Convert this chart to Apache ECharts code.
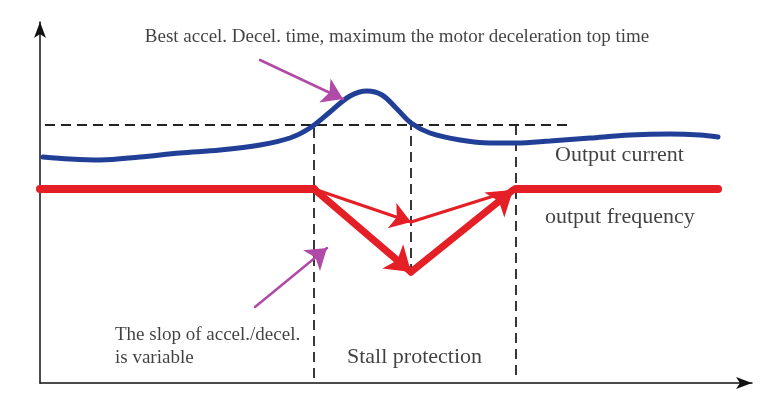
<!DOCTYPE html>
<html lang="en">
<head>
    <meta charset="UTF-8">
    <title>Stall protection</title>
    <script src="https://cdn.jsdelivr.net/npm/echarts@6/dist/echarts.min.js"></script>
    <style>
        html, body { margin: 0; padding: 0; background: #fff; }
        #chart { width: 780px; height: 397px; }
    </style>
</head>
<body>
    <div id="chart"></div>
    <script>
        // output current curve (time, level)
        const currentX = [3, 30, 60, 100, 140, 180, 220, 250, 270, 290, 310, 327, 342, 357, 371, 390, 420, 450, 476, 510, 550, 590, 630, 660, 678];
        const currentY = [226, 224, 223, 226, 230, 233, 238, 245, 255, 271, 287, 292, 288, 274, 260, 250, 243, 240, 240, 242, 245, 248, 249, 248, 246];

        // output frequency: flat before and after the stall window
        const freqBefore = [[0, 194], [274, 194]];
        const freqAfter = [[476, 194], [678, 194]];

        // decel / accel ramps inside the stall window
        const steepRamps = [[[274, 194], [371, 111]], [[371, 111], [473, 193]]];
        const gentleDecel = [[274, 194], [371, 161]];
        const gentleAccel = [[371, 161], [476, 194]];

        // reference levels / time marks
        const limitLine = [[5, 258], [530, 258]];
        const timeMarks = [
            [[274, 255], [274, 3]],
            [[371, 263], [371, 111]],
            [[476, 258], [476, 3]]
        ];

        // pointers to the annotations
        const pointers = [
            [[220, 323], [303, 284]],
            [[215, 76], [287, 135]]
        ];

        // annotation texts and anchors
        const titleText = 'Best accel. Decel. time, maximum the motor deceleration top time';
        const titleAt = [357, 346];
        const notes = [
            { text: 'Output current', at: [515, 228], size: 22 },
            { text: 'output frequency', at: [505, 166], size: 22 },
            { text: 'The slop of accel./decel.\nis variable', at: [75, 36.5], size: 19 },
            { text: 'Stall protection', at: [307, 26], size: 22 }
        ];

        const chart = echarts.init(document.getElementById('chart'));
        const serif = '"Liberation Serif", "DejaVu Serif", serif';

        const arrowLines = (coords, color, width, head) => ({
            type: 'lines',
            coordinateSystem: 'cartesian2d',
            symbol: ['none', head ? 'arrow' : 'none'],
            symbolSize: head || 0,
            lineStyle: { color: color, width: width, opacity: 1, curveness: 0, cap: 'round' },
            silent: true,
            z: 4,
            data: coords.map(c => ({ coords: c }))
        });

        const option = {
            animation: false,
            grid: { left: 40, top: 22, width: 712, height: 361 },
            xAxis: {
                type: 'value', min: 0, max: 712,
                axisLine: { show: true, lineStyle: { color: '#111', width: 1.5 }, symbol: ['none', 'arrow'], symbolSize: [9, 16] },
                axisTick: { show: false }, axisLabel: { show: false }, splitLine: { show: false }
            },
            yAxis: {
                type: 'value', min: 0, max: 361,
                axisLine: { show: true, lineStyle: { color: '#111', width: 1.5 }, symbol: ['none', 'arrow'], symbolSize: [9, 16] },
                axisTick: { show: false }, axisLabel: { show: false }, splitLine: { show: false }
            },
            series: [
                {
                    type: 'lines', coordinateSystem: 'cartesian2d', silent: true, z: 2,
                    lineStyle: { color: '#222', width: 1.8, type: [10, 6], opacity: 1 },
                    data: [limitLine].concat(timeMarks).map(c => ({ coords: c }))
                },
                {
                    name: 'Output current', type: 'line', smooth: 0.35, showSymbol: false, z: 3,
                    lineStyle: { color: '#213f96', width: 5, cap: 'round' },
                    data: currentX.map((x, i) => [x, currentY[i]])
                },
                {
                    name: 'output frequency', type: 'line', showSymbol: false, z: 3,
                    lineStyle: { color: '#e41f26', width: 8, cap: 'round' },
                    data: freqBefore
                },
                {
                    type: 'line', showSymbol: false, z: 3,
                    lineStyle: { color: '#e41f26', width: 8, cap: 'round' },
                    data: freqAfter
                },
                arrowLines(steepRamps, '#e41f26', 7, [22, 24]),
                arrowLines([gentleDecel], '#e41f26', 3, [16, 20]),
                arrowLines([gentleAccel], '#e41f26', 3, 0),
                arrowLines(pointers, '#b04aa6', 2.5, [14, 20]),
                {
                    type: 'scatter', symbolSize: 0, silent: true, z: 5,
                    label: {
                        show: true, position: 'inside', formatter: titleText,
                        fontFamily: serif, fontSize: 19, color: '#111', align: 'center'
                    },
                    data: [titleAt]
                },
                {
                    type: 'scatter', symbolSize: 0, silent: true, z: 5,
                    data: notes.map(n => ({
                        value: n.at,
                        label: {
                            show: true, position: 'inside', formatter: n.text,
                            fontFamily: serif, fontSize: n.size, lineHeight: n.size + 4,
                            color: '#111', align: 'left'
                        }
                    }))
                }
            ]
        };

        chart.setOption(option);
    </script>
</body>
</html>
